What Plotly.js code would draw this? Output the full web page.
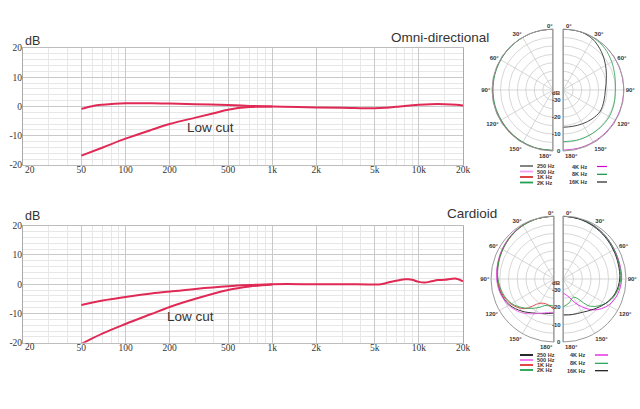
<!DOCTYPE html>
<html><head><meta charset="utf-8">
<script src="https://cdn.plot.ly/plotly-3.0.1.min.js"></script>
<style>html,body{margin:0;padding:0;background:#fff}#chart{width:640px;height:409px}</style>
</head><body><div id="chart"></div>
<script>
// ---------- frequency response data ----------
const omniFreq = [50,60,70,100,150,200,300,500,700,1000,1500,2000,3000,5000,6000,7000,8000,10000,12000,15000,18000,20000];
const omniMain = [-0.8,0.2,0.6,1.1,1.1,1.0,0.8,0.5,0.2,0.0,-0.2,-0.3,-0.4,-0.6,-0.4,-0.1,0.2,0.6,0.8,0.8,0.6,0.3];
const omniCutFreq = [50,70,100,150,200,300,400,500,700,1000];
const omniCut = [-16.8,-14.0,-11.0,-8.0,-6.0,-3.8,-2.3,-1.1,-0.2,0.0];

const cardFreq = [50,70,100,150,200,300,500,700,1000,2000,3000,5000,5500,6000,7000,8000,8500,9000,10000,11000,12000,13500,15000,18000,20000];
const cardMain = [-7.1,-5.6,-4.4,-3.2,-2.5,-1.6,-0.7,-0.3,0.0,0.0,0.0,-0.1,0.0,0.4,1.2,1.7,1.7,1.5,0.8,0.6,0.9,1.4,1.5,1.9,1.0];
const cardCutFreq = [50,70,100,150,200,300,500,700,1000];
const cardCut = [-20.4,-16.8,-13.6,-10.2,-7.8,-5.0,-2.0,-0.8,-0.1];

const xTickVals = [20,50,100,200,500,1000,2000,5000,10000,20000];
const xTickText = ['','50','100','200','500','1k','2k','5k','10k','20k'];
const xFirstLabel = '20';
const xMinorVals = [30,40,60,70,80,90,300,400,600,700,800,900,3000,4000,6000,7000,8000,9000,15000];
const yTickVals = [-20,-10,0,10,20];
const yTickText = ['-20','-10','0','10','20'];

// ---------- polar data ----------
const ang = [0,15,30,45,60,75,90,105,120,135,150,165,180];
const omniL = {
  '250 Hz':[0,0,-0.1,-0.2,-0.3,-0.3,-0.2,-0.2,-0.3,-0.4,-0.3,-0.2,-0.2],
  '500 Hz':[0,0,0,-0.1,-0.2,-0.2,-0.1,-0.1,-0.2,-0.3,-0.2,-0.1,0],
  '1K Hz':[0,0,-0.1,-0.1,-0.1,-0.2,-0.3,-0.3,-0.4,-0.4,-0.3,-0.2,-0.2],
  '2K Hz':[0,0,-0.2,-0.3,-0.4,-0.5,-0.6,-0.6,-0.7,-0.6,-0.5,-0.4,-0.4]
};
const omniR = {
  '4K Hz':[0,0,0,-0.1,-0.2,-0.2,-0.2,-0.3,-0.4,-0.5,-0.5,-0.5,-0.5],
  '8K Hz':[0,0,-0.3,-1.2,-2.8,-4.3,-5.1,-4.8,-4.5,-4.8,-5.1,-5.3,-5.5],
  '16K Hz':[0,0,-1.2,-4.0,-7.0,-9.5,-11.0,-11.0,-10.7,-11.8,-13.0,-13.8,-14.0]
};
const cardL = {
  '250 Hz':[0,-0.2,-0.5,-1.2,-2.0,-2.8,-3.5,-4.5,-6.5,-10.0,-13.5,-15.5,-16.5],
  '500 Hz':[0,-0.1,-0.4,-1.0,-1.8,-2.6,-3.2,-4.2,-6.0,-9.0,-13.0,-16.0,-17.0],
  '1K Hz':[0,-0.2,-0.6,-1.4,-2.2,-3.0,-3.8,-5.0,-7.5,-12.0,-20.0,-21.0,-18.5],
  '2K Hz':[0,-0.2,-0.6,-1.3,-2.2,-3.1,-4.0,-5.5,-8.0,-12.5,-17.0,-20.5,-20.5]
};
const cardR = {
  '4K Hz':[0,-0.3,-0.8,-1.5,-2.2,-2.5,-2.5,-3.5,-6.0,-11.0,-19.0,-26.0,-28.0],
  '8K Hz':[0,-0.3,-0.8,-1.5,-2.3,-2.8,-3.0,-4.5,-8.0,-14.0,-24.0,-22.0,-20.0],
  '16K Hz':[0,-0.5,-1.2,-2.0,-2.8,-3.3,-3.6,-5.0,-8.0,-11.5,-14.0,-15.0,-15.5]
};
const ringVals = [-30,-25,-20,-15,-10,-5,0];
const radLabelVals = [-34,-30,-20,-10,0];
const radLabelText = ['dB','-30','-20','-10','0'];
const angTicks = [0,30,60,90,120,150,180];
const angTickText = ['','30°','60°','90°','120°','150°',''];
const edgeTheta = [0,0,180,180];

const colorsOmni = {'250 Hz':'#7a7a7a','500 Hz':'#f080f0','1K Hz':'#d83a3a','2K Hz':'#2ea05a','4K Hz':'#d040c8','8K Hz':'#3aa860','16K Hz':'#333333'};
const colorsCard = {'250 Hz':'#222222','500 Hz':'#f060f0','1K Hz':'#e04040','2K Hz':'#30a050','4K Hz':'#e020e0','8K Hz':'#30a050','16K Hz':'#222222'};
const legLeft = ['250 Hz','500 Hz','1K Hz','2K Hz'];
const legRight = ['4K Hz','8K Hz','16K Hz'];
const legColorOmni = {'250 Hz':'#777777','500 Hz':'#f4a0f4','1K Hz':'#d83030','2K Hz':'#20a050','4K Hz':'#d000d0','8K Hz':'#109040','16K Hz':'#222222'};
const legColorCard = {'250 Hz':'#111111','500 Hz':'#f070f0','1K Hz':'#e03030','2K Hz':'#20a050','4K Hz':'#e000e0','8K Hz':'#20a050','16K Hz':'#111111'};

// ---------- geometry helpers (pixels -> paper) ----------
const W = 640, H = 409;
const px = p => p / W;
const py = p => 1 - p / H;
const RED = '#e02a55';
const RMIN = -36;

const polars = [
  {id:'polar',  cx:553, cy:90,  R:61, side:'L', data:omniL, colors:colorsOmni},
  {id:'polar2', cx:563, cy:90,  R:61, side:'R', data:omniR, colors:colorsOmni},
  {id:'polar3', cx:554, cy:279, R:63, side:'L', data:cardL, colors:colorsCard},
  {id:'polar4', cx:563, cy:279, R:63, side:'R', data:cardR, colors:colorsCard}
];

const traces = [];
traces.push({x:omniFreq, y:omniMain, xaxis:'x', yaxis:'y', mode:'lines', line:{color:RED, width:2, shape:'spline'}, hoverinfo:'skip'});
traces.push({x:omniCutFreq, y:omniCut, xaxis:'x', yaxis:'y', mode:'lines', line:{color:RED, width:2, shape:'spline'}, hoverinfo:'skip'});
traces.push({x:cardFreq, y:cardMain, xaxis:'x2', yaxis:'y2', mode:'lines', line:{color:RED, width:2, shape:'spline'}, hoverinfo:'skip'});
traces.push({x:cardCutFreq, y:cardCut, xaxis:'x2', yaxis:'y2', mode:'lines', line:{color:RED, width:2, shape:'spline'}, hoverinfo:'skip'});

const layout = {
  width:W, height:H, margin:{l:0,r:0,t:0,b:0}, paper_bgcolor:'#fff', plot_bgcolor:'#fff', showlegend:false,
  annotations:[], shapes:[]
};

const tickFont = {family:'Liberation Serif, Times New Roman, serif', size:9.5, color:'#333'};
function lineAxes(xd, yd){
  const xa = {type:'log', domain:xd, range:[Math.log10(20),Math.log10(20000)], tickmode:'array', tickvals:xTickVals, ticktext:xTickText,
    showgrid:true, gridcolor:'#c9c9c9', gridwidth:1, zeroline:false, showline:true, mirror:true, linecolor:'#bdbdbd', ticks:'',
    ticklabelstandoff:-4, tickfont:tickFont, fixedrange:true,
    minor:{tickmode:'array', tickvals:xMinorVals, showgrid:true, gridcolor:'#e7e7e7', gridwidth:1, ticks:''}};
  const ya = {domain:yd, range:[-20,20], tickmode:'array', tickvals:yTickVals, ticktext:yTickText,
    showgrid:true, gridcolor:'#c9c9c9', gridwidth:1, zeroline:false, showline:true, mirror:true, linecolor:'#aaaaaa', ticks:'',
    ticklabelstandoff:-2, tickfont:tickFont, fixedrange:true,
    minor:{tickmode:'linear', tick0:0, dtick:2, showgrid:true, gridcolor:'#e7e7e7', gridwidth:1, ticks:''}};
  return [xa, ya];
}
const plotBoxes = [{top:48, bottom:165}, {top:225.7, bottom:342.7}];
let a1 = lineAxes([px(23),px(463)],[py(plotBoxes[0].bottom),py(plotBoxes[0].top)]);
layout.xaxis = Object.assign(a1[0], {anchor:'y'});
layout.yaxis = Object.assign(a1[1], {anchor:'x'});
let a2 = lineAxes([px(23),px(463)],[py(plotBoxes[1].bottom),py(plotBoxes[1].top)]);
layout.xaxis2 = Object.assign(a2[0], {anchor:'y2'});
layout.yaxis2 = Object.assign(a2[1], {anchor:'x2'});
// first x label ("20") sits just right of the corner, beside the "-20" y label
plotBoxes.forEach(b => {
  layout.annotations.push({xref:'paper', yref:'paper', x:px(22.5), y:py(b.bottom + 4.5), xanchor:'left', yanchor:'middle', showarrow:false, text:xFirstLabel, font:tickFont});
});

const angFont = {family:'Liberation Sans, Arial, sans-serif', size:6, color:'#333', weight:'bold'};
polars.forEach(p => {
  const left = p.side === 'L';
  const dx = left ? [px(p.cx - p.R), px(p.cx)] : [px(p.cx), px(p.cx + p.R)];
  layout[p.id] = {
    domain:{x:dx, y:[py(p.cy + p.R), py(p.cy - p.R)]},
    sector: left ? [90,270] : [-90,90],
    bgcolor:'rgba(0,0,0,0)',
    radialaxis:{range:[RMIN,0], tickmode:'array', tickvals:ringVals, showticklabels:false, ticks:'', showline:false, gridcolor:'#cdcdcd', gridwidth:0.8},
    angularaxis:{rotation:90, direction: left ? 'counterclockwise' : 'clockwise', tickmode:'array', tickvals:angTicks,
      ticktext: angTickText, ticks:'', showline:true, linecolor:'#9a9a9a', linewidth:1, gridcolor:'#cdcdcd', gridwidth:0.8,
      tickfont:angFont}
  };
  const sub = p.id;
  Object.keys(p.data).forEach(k => {
    traces.push({type:'scatterpolar', subplot:sub, theta:ang, r:p.data[k], mode:'lines', line:{color:p.colors[k], width:1, shape:'spline'}, hoverinfo:'skip', opacity:0.9});
  });
  traces.push({type:'scatterpolar', subplot:sub, theta:edgeTheta, r:[0,RMIN,RMIN,0], mode:'lines', line:{color:'#8a8a8a', width:1.2}, hoverinfo:'skip'});
  // 0° and 180° labels beside the straight edge
  const ax = left ? 'right' : 'left';
  const ex = left ? p.cx + 2 : p.cx + 1;
  const ex2 = left ? p.cx + 1 : p.cx;
  layout.annotations.push({xref:'paper', yref:'paper', x:px(ex), y:py(p.cy - p.R - 3.5), xanchor:ax, yanchor:'middle', showarrow:false, text:'0°', font:angFont});
  layout.annotations.push({xref:'paper', yref:'paper', x:px(ex2), y:py(p.cy + p.R + 5), xanchor:ax, yanchor:'middle', showarrow:false, text:'180°', font:angFont});
  if (!left) {
    radLabelVals.forEach((v,i) => {
      layout.annotations.push({xref:'paper', yref:'paper', x:px(p.cx - 0.5), y:py(p.cy + p.R * (v - RMIN) / (0 - RMIN)),
        xanchor:'right', yanchor:'middle', showarrow:false, text:radLabelText[i], font:angFont});
    });
  }
});

// ---------- text ----------
const txtFont = {family:'Liberation Sans, Arial, sans-serif', size:13.5, color:'#333'};
layout.annotations.push({xref:'paper', yref:'paper', x:px(23), y:py(41), xanchor:'left', yanchor:'middle', showarrow:false, text:'dB', font:{family:'Liberation Sans, Arial, sans-serif', size:12.5, color:'#333'}});
layout.annotations.push({xref:'paper', yref:'paper', x:px(23), y:py(216), xanchor:'left', yanchor:'middle', showarrow:false, text:'dB', font:{family:'Liberation Sans, Arial, sans-serif', size:12.5, color:'#333'}});
layout.annotations.push({xref:'paper', yref:'paper', x:px(491), y:py(37), xanchor:'right', yanchor:'middle', showarrow:false, text:'Omni-directional', font:txtFont});
layout.annotations.push({xref:'paper', yref:'paper', x:px(499), y:py(213), xanchor:'right', yanchor:'middle', showarrow:false, text:'Cardioid', font:txtFont});
layout.annotations.push({xref:'x', yref:'y', x:Math.log10(255), y:-7.3, xanchor:'left', yanchor:'middle', showarrow:false, text:'Low cut', font:txtFont});
layout.annotations.push({xref:'x2', yref:'y2', x:Math.log10(186), y:-11.1, xanchor:'left', yanchor:'middle', showarrow:false, text:'Low cut', font:txtFont});

// ---------- polar legends ----------
const legFont = {family:'Liberation Sans, Arial, sans-serif', size:5.5, color:'#333', weight:'bold'};
function legendBlock(rowsL, rowsR, colors, rightTextX, rightLineX){
  legLeft.forEach((k,i) => {
    layout.shapes.push({type:'line', xref:'paper', yref:'paper', x0:px(520), x1:px(533), y0:py(rowsL[i]), y1:py(rowsL[i]), line:{color:colors[k], width:1.8}});
    layout.annotations.push({xref:'paper', yref:'paper', x:px(535), y:py(rowsL[i]), xanchor:'left', yanchor:'middle', showarrow:false, text:k, font:legFont});
  });
  legRight.forEach((k,i) => {
    layout.shapes.push({type:'line', xref:'paper', yref:'paper', x0:px(rightLineX[0]), x1:px(rightLineX[1]), y0:py(rowsR[i]), y1:py(rowsR[i]), line:{color:colors[k], width:1.2}});
    layout.annotations.push({xref:'paper', yref:'paper', x:px(rightTextX), y:py(rowsR[i]), xanchor:'right', yanchor:'middle', showarrow:false, text:k, font:legFont});
  });
}
legendBlock([166,171.5,177,182.5],[166.5,174.3,182], legColorOmni, 590, [597,607]);
legendBlock([355,360,365,370],[355,363.3,370.7], legColorCard, 588, [595,608]);

Plotly.newPlot('chart', traces, layout, {staticPlot:true, displayModeBar:false});
</script>
</body></html>
